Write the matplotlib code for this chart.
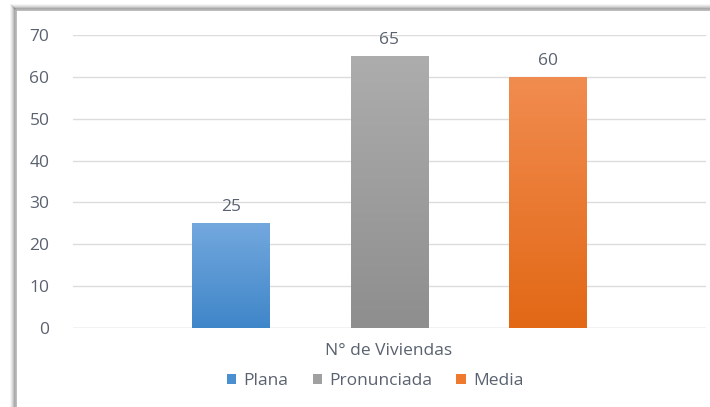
import numpy as np
import matplotlib.pyplot as plt
from matplotlib.patches import Patch
from matplotlib.lines import Line2D
from matplotlib.colors import LinearSegmentedColormap

# tipos de pendiente y numero de viviendas
tipos = ['Plana', 'Pronunciada', 'Media']
viviendas = [25, 65, 60]
categoria = 'N° de Viviendas'
y_ticks = [0, 10, 20, 30, 40, 50, 60, 70]

# degradado (arriba, abajo) de cada barra
degradados = [('#73a8de', '#3f86c9'), ('#adadad', '#8e8e8e'), ('#f18c50', '#e26815')]
colores_leyenda = ['#4a8fd0', '#a0a0a0', '#ee7a30']

txt = '#5a6270'
fs = 12.5
plt.rcParams['font.family'] = ['Open Sans', 'DejaVu Sans']

fig = plt.figure(figsize=(7.1, 4.07), dpi=100)
fig.patch.set_facecolor('white')
ax = fig.add_axes([73 / 710, 1 - 328 / 407, (706 - 73) / 710, (328 - 35) / 407])

pos = np.arange(len(tipos))
ancho = 0.49
bars = ax.bar(pos, viviendas, width=ancho, color='none', zorder=3)

# rellenar cada barra con un degradado vertical
for b, (c_top, c_bot) in zip(bars, degradados):
    cmap = LinearSegmentedColormap.from_list('g', [c_bot, c_top])
    x0, y0 = b.get_x(), b.get_y()
    w, h = b.get_width(), b.get_height()
    grad = np.linspace(0, 1, 256).reshape(-1, 1)
    im = ax.imshow(grad, cmap=cmap, origin='lower', aspect='auto',
                   extent=[x0, x0 + w, y0, y0 + h], zorder=3)
    im.set_clip_path(b)

for p, v in zip(pos, viviendas):
    ax.text(p, v + 1.9, str(v), ha='center', va='bottom', fontsize=fs, color=txt)

ax.set_xlim(-1, 3)
ax.set_ylim(0, 70)
ax.set_yticks(y_ticks)
ax.set_xticks([])
ax.tick_params(axis='y', length=0, pad=17, labelsize=fs, labelcolor=txt)
ax.grid(axis='y', color='#dcdcdc', linewidth=1, zorder=0)
ax.set_axisbelow(True)
for s in ax.spines.values():
    s.set_visible(False)
ax.axhline(0, color='#dcdcdc', linewidth=1, zorder=1)

fig.text(389 / 710, 1 - 351 / 407, categoria, ha='center', va='center',
         fontsize=fs, color=txt)

handles = [Patch(facecolor=c, edgecolor='none') for c in colores_leyenda]
fig.legend(handles, tipos, loc='center', bbox_to_anchor=(375 / 710, 1 - 381 / 407),
           ncol=3, frameon=False, fontsize=fs, labelcolor=txt,
           handlelength=0.55, handleheight=0.55, handletextpad=0.4, columnspacing=1.4)

# marco del grafico con sombra arriba y a la izquierda
for i, a in enumerate([0.08, 0.15, 0.25, 0.4, 0.6]):
    off = 5 - i
    xl = (16 - off) / 710
    yt = 1 - (10 - off) / 407
    fig.add_artist(Line2D([xl, xl], [0, yt], transform=fig.transFigure,
                          color='#808080', alpha=a, linewidth=1.2))
    fig.add_artist(Line2D([xl, 1], [yt, yt], transform=fig.transFigure,
                          color='#808080', alpha=a, linewidth=1.2))
fig.add_artist(Line2D([16 / 710, 16 / 710], [0, 1 - 10 / 407], transform=fig.transFigure,
                      color='#b0b0b0', linewidth=1.2))
fig.add_artist(Line2D([16 / 710, 1], [1 - 10 / 407, 1 - 10 / 407], transform=fig.transFigure,
                      color='#b0b0b0', linewidth=1.2))

fig.savefig('out.png', dpi=100, facecolor='white')
